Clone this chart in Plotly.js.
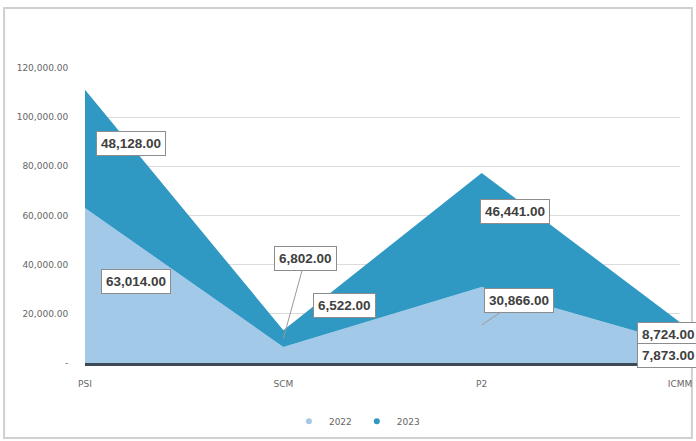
<!DOCTYPE html>
<html><head><meta charset="utf-8">
<script src="https://cdn.plot.ly/plotly-3.0.1.min.js"></script>
<style>html,body{margin:0;padding:0;background:#fff;}#chart{width:696px;height:441px;}</style>
</head><body><div id="chart"></div>
<script>
const categories = ["PSI", "SCM", "P2", "ICMM"];
const values2022 = [63014, 6522, 30866, 7873];
const values2023 = [48128, 6802, 46441, 8724];
const seriesNames = ["2022", "2023"];
const seriesColors = ["#a3c9e9", "#2f98c3"];
const yTickVals = [0, 20000, 40000, 60000, 80000, 100000, 120000];
const yTickText = ["-", "20,000.00", "40,000.00", "60,000.00", "80,000.00", "100,000.00", "120,000.00"];

const fmt = v => v.toLocaleString('en-US', {minimumFractionDigits: 2, maximumFractionDigits: 2});

const traces = [
  {x: categories, y: values2022, name: seriesNames[0], type: 'scatter', mode: 'lines', stackgroup: 'one',
   line: {width: 0, color: seriesColors[0]}, fillcolor: seriesColors[0], showlegend: false, legendgroup: 'a'},
  {x: categories, y: values2023, name: seriesNames[1], type: 'scatter', mode: 'lines', stackgroup: 'one',
   line: {width: 0, color: seriesColors[1]}, fillcolor: seriesColors[1], showlegend: false, legendgroup: 'b'},
  // legend entries (small round markers like the reference)
  {x: [categories[0]], y: [null], name: seriesNames[0], type: 'scatter', mode: 'markers',
   marker: {color: seriesColors[0], size: 6}, legendgroup: 'a'},
  {x: [categories[0]], y: [null], name: seriesNames[1], type: 'scatter', mode: 'markers',
   marker: {color: seriesColors[1], size: 6}, legendgroup: 'b'}
];

// label offsets (pixels) per point
const off2023 = [{dx: 46, dy: 5, arrow: false}, {dx: 22, dy: -80, arrow: true}, {dx: 33, dy: 19, arrow: false}, {dx: -12, dy: -2, arrow: false}];
const off2022 = [{dx: 51, dy: 4, arrow: false}, {dx: 61, dy: 49, arrow: false}, {dx: 37, dy: -25, arrow: true}, {dx: -12, dy: -2, arrow: false}];

const annotations = [];
function addLabel(cat, yv, val, o) {
  const base = {x: cat, y: yv, xref: 'x', yref: 'y', text: '<b>' + fmt(val) + '</b>',
    font: {family: 'Liberation Sans, Arial, sans-serif', size: 13.5, color: '#404040'},
    bgcolor: '#ffffff', bordercolor: '#8c8c8c', borderwidth: 1, borderpad: 4};
  if (o.arrow) {
    Object.assign(base, {showarrow: true, arrowhead: 0, arrowwidth: 1, arrowcolor: '#9a9a9a', ax: o.dx, ay: o.dy});
  } else {
    Object.assign(base, {showarrow: false, xshift: o.dx, yshift: o.dy});
  }
  annotations.push(base);
}
categories.forEach((c, i) => {
  addLabel(c, values2022[i] + values2023[i] / 2, values2023[i], off2023[i]);
  addLabel(c, values2022[i] / 2, values2022[i], off2022[i]);
});

const tickFont = {size: 9, color: '#666', family: 'DejaVu Sans, sans-serif'};
const layout = {
  width: 696, height: 441,
  margin: {l: 85, r: 16, t: 68, b: 78},
  paper_bgcolor: '#ffffff', plot_bgcolor: '#ffffff',
  showlegend: true,
  legend: {orientation: 'h', traceorder: 'normal', x: 0.457, xanchor: 'center', xref: 'paper',
    yref: 'container', y: 0.045, yanchor: 'middle', itemwidth: 30,
    font: tickFont},
  xaxis: {type: 'category', range: [0, 3], showgrid: false, zeroline: false, automargin: false,
    showline: true, linecolor: '#3d4a56', linewidth: 3,
    ticks: 'outside', ticklen: 10, tickcolor: 'rgba(0,0,0,0)',
    tickfont: tickFont},
  yaxis: {range: [0, 120000], tickvals: yTickVals, ticktext: yTickText, automargin: false,
    showgrid: true, gridcolor: '#dcdcdc', gridwidth: 1, zeroline: false, showline: false,
    ticks: 'outside', ticklen: 14, tickcolor: 'rgba(0,0,0,0)',
    tickfont: tickFont},
  annotations: annotations,
  shapes: [{type: 'rect', xref: 'paper', yref: 'paper', x0: -0.136, x1: 1.02, y0: -0.254, y1: 1.203,
    line: {color: '#d0d0d0', width: 2}, fillcolor: 'rgba(0,0,0,0)', layer: 'below'}]
};

Plotly.newPlot('chart', traces, layout, {displayModeBar: false, staticPlot: true});
</script></body></html>
